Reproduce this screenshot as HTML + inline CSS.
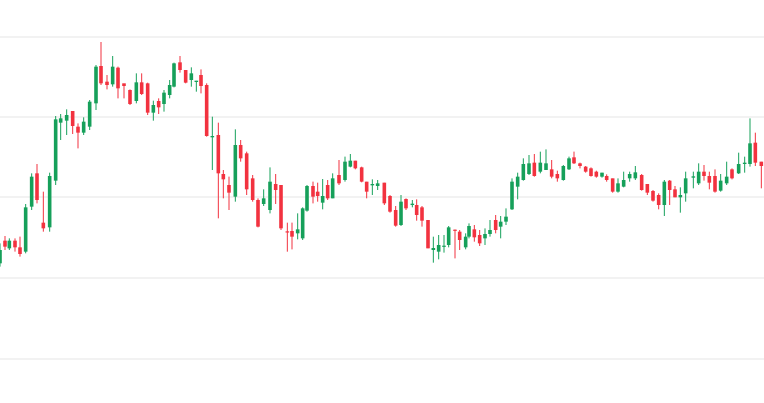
<!DOCTYPE html>
<html><head><meta charset="utf-8"><style>html,body{margin:0;padding:0;background:#fff}svg{display:block}</style></head>
<body><svg id="c" width="764" height="403" xmlns="http://www.w3.org/2000/svg">
<rect width="764" height="403" fill="#fff"/>
<g stroke="#eeeeee" stroke-width="1.5">
<line x1="0" y1="37" x2="764" y2="37"/><line x1="0" y1="117" x2="764" y2="117"/><line x1="0" y1="197" x2="764" y2="197"/><line x1="0" y1="278" x2="764" y2="278"/><line x1="0" y1="359" x2="764" y2="359"/>
</g>
<g id="k"></g>
</svg>
<script>
var z1=[[0,'g',660,700,640,710],[15,'r',632,650,618,660],[28,'g',632,655,625,660],[45,'r',632,652,625,665],[60,'r',652,672,620,680],[77,'g',532,665,522,670],[95,'g',440,530,430,540],[111,'r',430,510,402,520],[130,'r',578,595,485,605],[149,'g',438,592,428,605],[167,'g',268,452,258,465],[182,'g',265,278,252,330],[200,'g',255,272,238,315],[218,'r',243,288,243,312],[234,'r',290,308,280,355],[251,'g',275,308,262,315],[269,'g',215,290,210,300],[288,'g',110,220,105,240],[303,'r',108,160,36,165],[321,'r',155,165,135,178],[338,'g',110,163,78,170],[354,'r',113,175,110,205],[372,'r',160,168,160,205],[390,'r',180,222,178,225],[409,'g',157,213,130,220],[425,'r',157,192,130,195],[443,'r',160,248,158,255],[460,'g',225,248,212,272],[476,'r',213,232,205,252],[492,'g',188,222,180,245],[509,'g',165,195,150,205],[522,'g',100,170,98,172],[540,'r',97,120,78,128],[557,'r',120,158,120,160],[574,'g',130,150,112,170],[589,'g',152,156,152,185],[603,'r',135,168,118,190],[620,'r',165,318,160,320],[637,'g',318,322,260,420],[655,'r',315,430,278,565],[670,'r',432,448,420,505],[687,'r',465,488,440,540],[706,'g',345,500,298,515],[722,'r',345,385,330,395],[740,'r',370,478,365,495]];
var z2=[[8,'r',145,210,135,215],[24,'r',210,290,205,292],[41,'g',205,222,178,228],[60,'g',155,240,112,250],[77,'r',162,180,132,222],[93,'r',165,295,165,300],[112,'r',304,307,278,365],[126,'r',303,320,278,358],[143,'g',298,310,250,328],[158,'g',235,325,232,330],[171,'g',168,242,165,245],[189,'r',168,200,155,220],[203,'r',185,198,158,215],[218,'g',198,218,147,238],[233,'r',165,205,150,210],[248,'g',145,205,130,205],[267,'r',135,160,90,165],[285,'g',95,150,80,155],[301,'g',92,110,72,112],[316,'r',92,115,92,118],[335,'r',112,155,110,157],[350,'r',155,185,155,205],[367,'g',162,166,148,195],[383,'g',160,168,150,180],[403,'r',158,220,158,225],[420,'r',198,245,195,248],[437,'r',240,287,228,290],[453,'g',215,285,195,288],[468,'r',207,235,205,240],[487,'g',221,225,210,232],[500,'r',225,255,208,272],[516,'r',232,272,228,290],[534,'r',270,355,270,355],[550,'g',354,360,320,398],[566,'g',345,365,315,388],[582,'g',347,350,315,368],[596,'g',292,345,288,352],[615,'r',299,302,298,385],[629,'r',305,330,300,360],[647,'g',320,352,310,358],[657,'g',288,320,280,325],[673,'r',298,322,285,335],[689,'r',315,340,300,348],[705,'g',312,325,295,345],[720,'g',300,312,270,320],[737,'r',270,300,255,310],[752,'g',275,290,258,325]];
var z3=[[18,'g',320,335,295,345],[36,'g',215,298,205,300],[53,'g',200,230,188,268],[70,'g',162,210,145,212],[87,'g',160,192,135,195],[103,'r',158,198,132,200],[121,'g',158,185,125,190],[138,'g',160,180,118,180],[155,'r',178,200,150,205],[172,'r',192,205,182,215],[190,'g',168,210,165,212],[207,'g',145,178,140,180],[222,'r',142,160,125,162],[240,'r',160,168,158,175],[257,'r',170,185,168,188],[273,'r',175,198,172,200],[289,'r',185,200,182,203],[306,'g',188,200,188,203],[320,'r',198,210,193,215],[338,'r',205,245,205,248],[354,'g',220,245,205,248],[371,'g',210,230,185,232],[389,'g',192,205,185,215],[406,'g',187,205,168,210],[425,'r',195,240,192,242],[442,'r',222,248,222,255],[459,'r',243,272,240,275],[476,'r',255,285,250,298],[493,'g',215,285,210,318],[509,'r',212,240,210,285],[525,'r',238,262,228,262],[541,'g',255,262,232,308],[557,'g',205,250,185,275],[580,'g',199,203,185,235],[596,'g',185,220,160,225],[612,'r',185,198,165,212],[628,'r',198,218,185,238],[645,'r',198,245,178,248],[662,'g',212,242,192,245],[680,'g',200,220,155,225],[696,'r',178,205,175,208],[716,'g',162,190,128,192],[734,'g',158,162,140,188],[750,'g',100,162,25,170],[766,'r',98,158,68,168],[784,'r',155,168,155,235]];
var s='';
function add(arr,ox,oy){arr.forEach(function(d){
 var x=ox+d[0]/3,t=oy+d[2]/3,b=oy+d[3]/3,h=oy+d[4]/3,l=oy+d[5]/3;
 var c=d[1]=='g'?'#16a05a':'#f2323f';
 s+='<line x1="'+x+'" x2="'+x+'" y1="'+h+'" y2="'+l+'" stroke="'+c+'" stroke-width="1"/>';
 s+='<rect x="'+(x-1.8)+'" y="'+t+'" width="3.6" height="'+Math.max(b-t,1.2)+'" fill="'+c+'"/>';
});}
add(z1,0,30);add(z2,250,130);add(z3,500,110);
document.getElementById('k').innerHTML=s;
</script>
</body></html>
